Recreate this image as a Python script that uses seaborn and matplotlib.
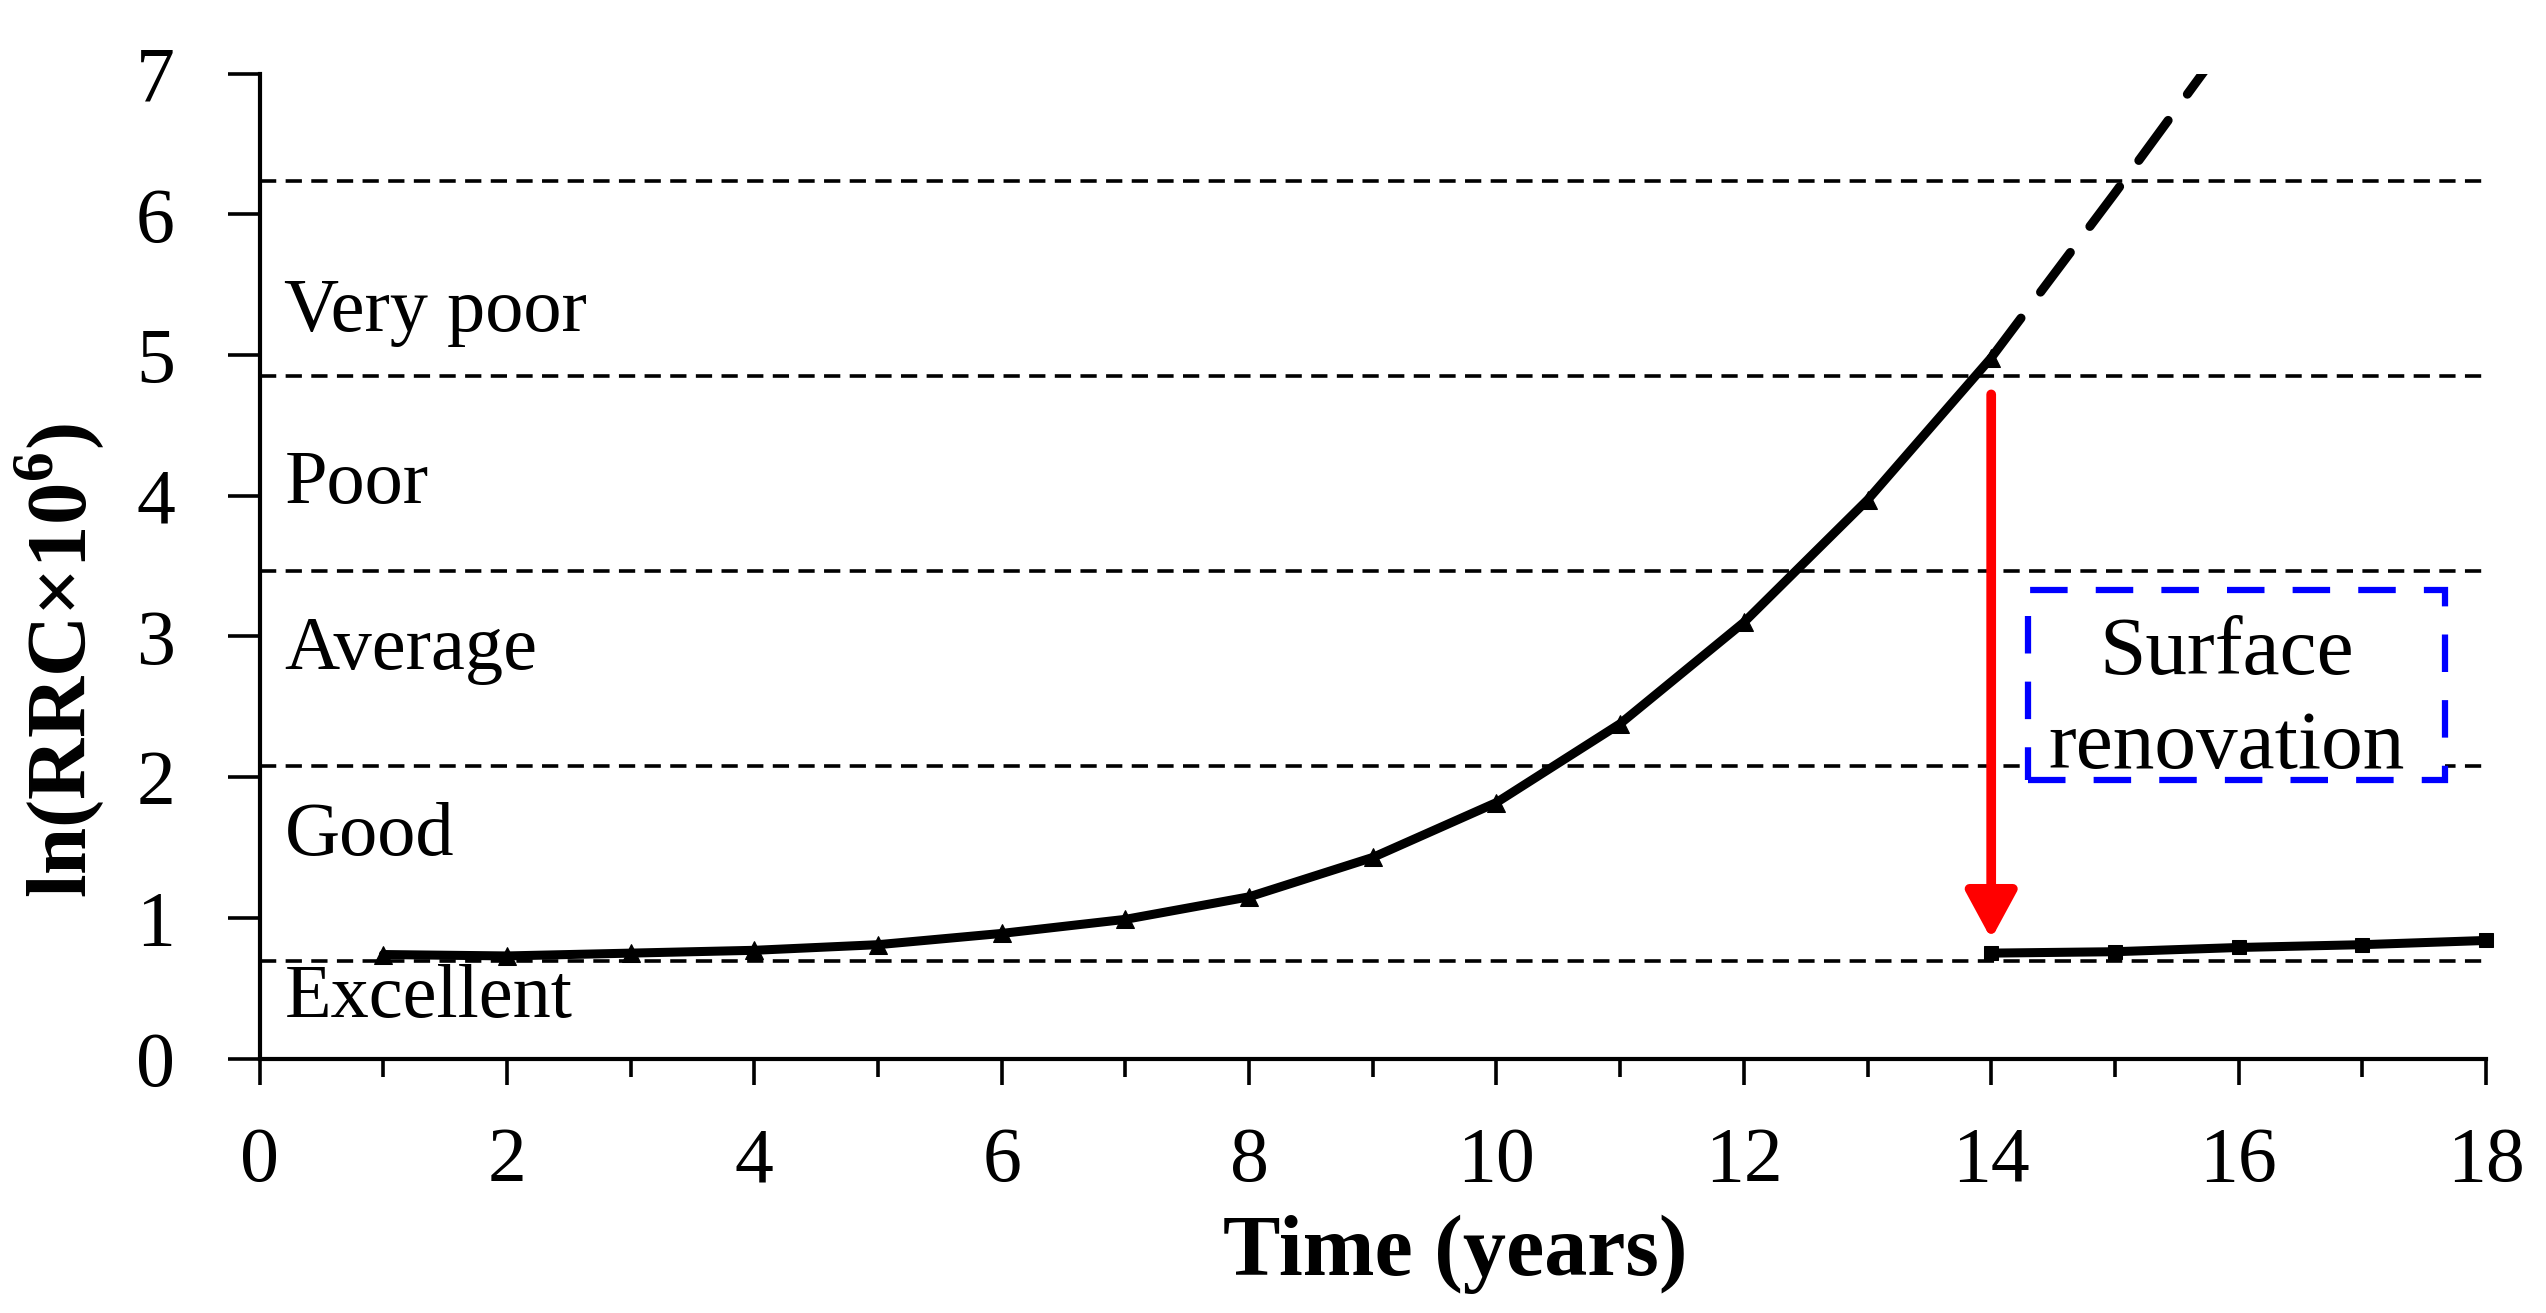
import numpy as np
import pandas as pd
import seaborn as sns
import matplotlib
matplotlib.use("Agg")
import matplotlib.pyplot as plt
from matplotlib.patches import Rectangle

# ---------------- data ----------------
years_before = [1, 2, 3, 4, 5, 6, 7, 8, 9, 10, 11, 12, 13, 14]
rrc_before = [0.74, 0.73, 0.75, 0.77, 0.81, 0.89, 0.99, 1.15, 1.43, 1.82, 2.38, 3.10, 3.97, 4.98]
years_extrap = [14, 15, 16]
rrc_extrap = [4.98, 6.15, 7.35]
years_after = [14, 15, 16, 17, 18]
rrc_after = [0.75, 0.76, 0.79, 0.81, 0.84]
thresholds = [0.693, 2.079, 3.466, 4.852, 6.238]
condition_labels = ["Excellent", "Good", "Average", "Poor", "Very poor"]
condition_label_y = [0.43, 1.58, 2.90, 4.08, 5.30]
x_ticks = [0, 2, 4, 6, 8, 10, 12, 14, 16, 18]
y_ticks = [0, 1, 2, 3, 4, 5, 6, 7]
renovation_year = 14
arrow_from, arrow_to = 4.72, 0.85
box_text = "Surface\nrenovation"

df_before = pd.DataFrame({"t": years_before, "v": rrc_before})
df_extrap = pd.DataFrame({"t": years_extrap, "v": rrc_extrap})
df_after = pd.DataFrame({"t": years_after, "v": rrc_after})

# ---------------- style ----------------
sns.set_theme(style="ticks")
plt.rcParams["font.family"] = ["Liberation Serif", "DejaVu Serif"]
plt.rcParams["mathtext.fontset"] = "custom"
plt.rcParams["mathtext.rm"] = "Liberation Serif"
plt.rcParams["mathtext.bf"] = "Liberation Serif:bold"
for k in ["text.color", "axes.labelcolor", "xtick.color", "ytick.color", "axes.edgecolor"]:
    plt.rcParams[k] = "black"

fig = plt.figure(figsize=(25.46, 13.13), dpi=100)
ax = fig.add_axes([0.102, 0.1937, 0.8744, 0.7503])

# threshold dashed lines
for th in thresholds:
    ax.axhline(th, color="black", lw=2.6, ls=(0, (4.5, 2.6)), zorder=1)

# curves
sns.lineplot(data=df_extrap, x="t", y="v", ax=ax, color="black", lw=6.5,
             ls=(0, (5.5, 3.6)), dash_capstyle="round", zorder=3)
sns.lineplot(data=df_before, x="t", y="v", ax=ax, color="black", lw=6.5,
             marker="^", markersize=13, markeredgecolor="black", zorder=4)
sns.lineplot(data=df_after, x="t", y="v", ax=ax, color="black", lw=6.5,
             marker="s", markersize=10, markeredgecolor="black", zorder=4, clip_on=False)

# condition labels
for lab, yy in zip(condition_labels, condition_label_y):
    ax.text(0.2, yy, lab, fontsize=55, ha="left", va="center")

# red arrow
ax.annotate("", xy=(renovation_year, arrow_to), xytext=(renovation_year, arrow_from),
            arrowprops=dict(arrowstyle="-|>,head_length=2.4,head_width=1.3",
                            color="red", lw=7, shrinkA=0, shrinkB=0), zorder=5)

# blue dashed box with text
ax.add_patch(Rectangle((14.3, 1.98), 3.37, 1.35, fill=True, facecolor="white",
                       edgecolor="blue", lw=4.5, ls=(0, (6, 4.5)), zorder=5))
ax.text(15.9, 2.54, box_text, fontsize=60, ha="center", va="center",
        linespacing=1.32, zorder=6)

# axes
ax.set_xlim(0, 18)
ax.set_ylim(0, 7)
ax.set_xticks(x_ticks)
ax.set_xticks(list(range(1, 18, 2)), minor=True)
ax.set_yticks(y_ticks)
ax.tick_params(axis="both", which="major", labelsize=56, width=2.6, direction="out")
ax.tick_params(axis="x", which="major", length=19, pad=30)
ax.tick_params(axis="y", which="major", length=23, pad=38)
ax.tick_params(axis="x", which="minor", width=2.6, length=13, direction="out")
ax.set_xlabel("Time (years)", fontsize=62, fontweight="bold")
ax.set_ylabel(r"ln(RRC×10$^{\mathregular{6}}$)", fontsize=61, fontweight="bold")
ax.xaxis.set_label_coords(0.537, -0.158)
ax.yaxis.set_label_coords(-0.069, 0.404)
for s in ["top", "right"]:
    ax.spines[s].set_visible(False)
for s in ["left", "bottom"]:
    ax.spines[s].set_linewidth(3)
ax.grid(False)

fig.savefig("out.png", dpi=100, facecolor="white")
